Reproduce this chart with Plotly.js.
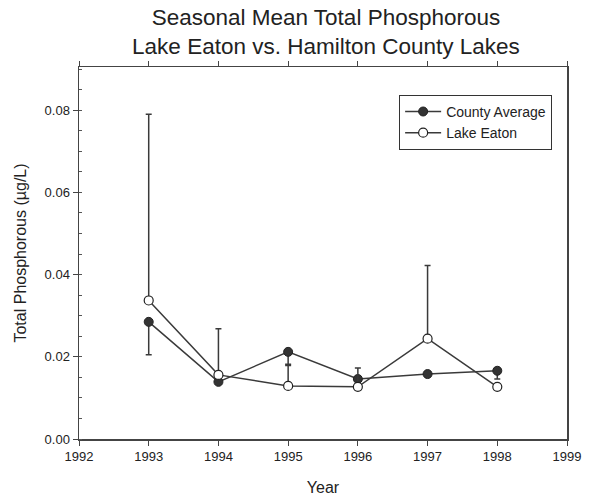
<!DOCTYPE html>
<html>
<head>
<meta charset="utf-8">
<script src="https://cdn.plot.ly/plotly-3.0.1.min.js"></script>
<style>html,body{margin:0;padding:0;background:#fff;}#chart{width:607px;height:502px;}</style>
</head>
<body>
<div id="chart"></div>
<script>
var years = [1993, 1994, 1995, 1996, 1997, 1998];
var countyAvg = [0.0285, 0.0139, 0.0212, 0.0146, 0.0158, 0.0166];
var countyErrMinus = [0.0080, 0, 0.0030, 0, 0, 0.0020];
var lakeEaton = [0.0337, 0.0156, 0.0129, 0.0127, 0.0244, 0.0127];
var lakeErrPlus = [0.0453, 0.0112, 0.0050, 0.0046, 0.0178, 0];
var zeros = [0, 0, 0, 0, 0, 0];

var lineColor = '#3a3a3a';
var traces = [
  {
    x: years, y: countyAvg, name: 'County Average', type: 'scatter', mode: 'lines+markers',
    line: {color: lineColor, width: 1.5},
    marker: {symbol: 'circle', size: 9, color: '#333', line: {color: '#222', width: 1}},
    error_y: {type: 'data', symmetric: false, array: zeros, arrayminus: countyErrMinus,
              color: lineColor, thickness: 1.5, width: 3}
  },
  {
    x: years, y: lakeEaton, name: 'Lake Eaton', type: 'scatter', mode: 'lines+markers',
    line: {color: lineColor, width: 1.5},
    marker: {symbol: 'circle', size: 9, color: '#fff', line: {color: '#222', width: 1.2}},
    error_y: {type: 'data', symmetric: false, array: lakeErrPlus, arrayminus: zeros,
              color: lineColor, thickness: 1.5, width: 3}
  }
];

var layout = {
  width: 607, height: 502,
  margin: {l: 79, r: 40, t: 67, b: 63},
  paper_bgcolor: '#fff', plot_bgcolor: '#fff',
  font: {family: 'Liberation Sans, Arial, sans-serif', color: '#222', size: 13},
  title: {
    text: 'Seasonal Mean Total Phosphorous<br>Lake Eaton vs. Hamilton County Lakes',
    font: {size: 22.5, color: '#222'}, x: 0.537, xanchor: 'center',
    yref: 'container', y: 0.951, yanchor: 'middle'
  },
  showlegend: true,
  legend: {
    x: 0.656, y: 0.925, xanchor: 'left', yanchor: 'top',
    bgcolor: '#fff', bordercolor: '#333', borderwidth: 1,
    font: {size: 14, color: '#222'}, itemwidth: 36, tracegroupgap: 0
  },
  xaxis: {
    range: [1992, 1999], dtick: 1, tick0: 1992, showgrid: false, zeroline: false,
    showline: true, linecolor: '#444', linewidth: 1.5, mirror: 'ticks',
    ticks: 'outside', ticklen: 5, tickcolor: '#444', tickwidth: 1,
    tickfont: {size: 13},
    title: {text: 'Year', font: {size: 16}, standoff: 18}
  },
  yaxis: {
    range: [0, 0.0905], dtick: 0.02, tick0: 0, tickformat: '.2f', showgrid: false, zeroline: false,
    showline: true, linecolor: '#444', linewidth: 1.5, mirror: true,
    ticks: 'outside', ticklen: 5, tickcolor: '#444', tickwidth: 1,
    minor: {dtick: 0.005, ticks: 'inside', ticklen: 3, tickcolor: '#555', showgrid: false},
    tickfont: {size: 13},
    title: {text: 'Total Phosphorous (µg/L)', font: {size: 16}, standoff: 14}
  }
};

Plotly.newPlot('chart', traces, layout, {displayModeBar: false, staticPlot: true});
</script>
</body>
</html>
